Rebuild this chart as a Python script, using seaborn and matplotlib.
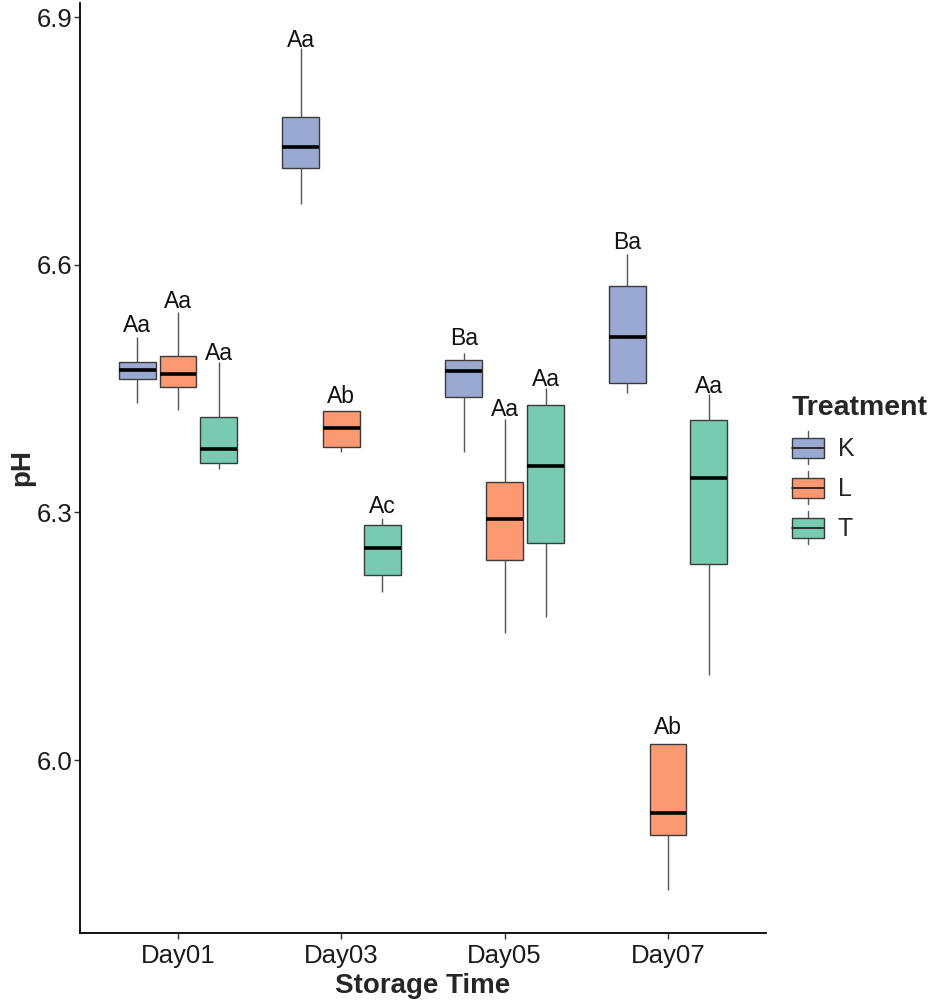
import numpy as np
import pandas as pd
import matplotlib
matplotlib.use("Agg")
import matplotlib.pyplot as plt
from matplotlib.patches import Rectangle, Patch
from matplotlib.lines import Line2D
from matplotlib.legend_handler import HandlerBase
import seaborn as sns

# ---------------- data ----------------
days = ["Day01", "Day03", "Day05", "Day07"]
treatments = ["K", "L", "T"]

ph_K = [
    [6.433, 6.462, 6.472, 6.4825, 6.513],
    [6.6735, 6.7175, 6.7425, 6.779, 6.862],
    [6.3735, 6.4394, 6.4716, 6.4845, 6.4926],
    [6.4442, 6.457, 6.5128, 6.5745, 6.6126],
]
ph_L = [
    [6.424, 6.452, 6.468, 6.489, 6.543],
    [6.3735, 6.3795, 6.4018, 6.4228, 6.4228],
    [6.1535, 6.2423, 6.292, 6.3372, 6.4127],
    [5.8426, 5.9092, 5.9362, 6.0198, 6.0198],
]
ph_T = [
    [6.353, 6.360, 6.377, 6.415, 6.4825],
    [6.2032, 6.2241, 6.2565, 6.2847, 6.2928],
    [6.1729, 6.2625, 6.3565, 6.430, 6.451],
    [6.103, 6.2375, 6.342, 6.4119, 6.444],
]

letters_K = ["Aa", "Aa", "Ba", "Ba"]
letters_L = ["Aa", "Ab", "Aa", "Ab"]
letters_T = ["Aa", "Ac", "Aa", "Aa"]

label_y_K = [6.527, 6.872, 6.511, 6.627]
label_y_L = [6.556, 6.440, 6.425, 6.039]
label_y_T = [6.492, 6.307, 6.4615, 6.452]

y_ticks = [6.0, 6.3, 6.6, 6.9]

# ---------------- build frame ----------------
rows = []
for trt, series in zip(treatments, [ph_K, ph_L, ph_T]):
    for d, vals in zip(days, series):
        for v in vals:
            rows.append({"Storage Time": d, "pH": v, "Treatment": trt})
df = pd.DataFrame(rows)

palette = {"K": "#99a9d2", "L": "#fc9872", "T": "#78cbb0"}

sns.set_theme(style="ticks")
plt.rcParams["font.family"] = ["Liberation Sans", "DejaVu Sans"]

fig = plt.figure(figsize=(9.3, 10.02), dpi=100)
ax = fig.add_axes([80 / 930, 1 - 932.7 / 1002, (766 - 80) / 930, (932.7 - 3) / 1002])

edge = "#3a3a3a"
sns.boxplot(
    data=df, x="Storage Time", y="pH", hue="Treatment",
    order=days, hue_order=treatments, palette=palette,
    width=0.75, gap=0.1, whis=(0, 100), showcaps=False, fliersize=0,
    linewidth=1.0, linecolor=edge,
    medianprops=dict(color="black", linewidth=2.6),
    whiskerprops=dict(color="#555555", linewidth=1.0),
    saturation=1, legend=False, ax=ax,
)

# significance letters
offsets = [-0.25, 0.0, 0.25]
for off, letters, ys in zip(offsets, [letters_K, letters_L, letters_T],
                            [label_y_K, label_y_L, label_y_T]):
    for i, (lab, yv) in enumerate(zip(letters, ys)):
        ax.text(i + off, yv, lab, ha="center", va="center", fontsize=16.5,
                color="#111111")

ax.set_ylim(5.791, 6.917)
ax.set_xlim(-0.6, 3.6)
ax.set_yticks(y_ticks)
ax.set_yticklabels([f"{t:.1f}" for t in y_ticks])
for s in ["top", "right"]:
    ax.spines[s].set_visible(False)
for s in ["left", "bottom"]:
    ax.spines[s].set_color("black")
    ax.spines[s].set_linewidth(1.3)
ax.tick_params(axis="both", which="major", length=4, width=1, color="#333333",
               labelsize=18.5, labelcolor="#1a1a1a")
ax.tick_params(axis="x", pad=4)
ax.tick_params(axis="y", pad=1.5)
ax.set_xlabel("Storage Time", fontsize=20, fontweight="bold", labelpad=4)
ax.set_ylabel("pH", fontsize=20, fontweight="bold", labelpad=1)


# legend with boxplot-style keys
class BoxKeyHandler(HandlerBase):
    def create_artists(self, legend, orig_handle, xdescent, ydescent,
                       width, height, fontsize, trans):
        fc = orig_handle.get_facecolor()
        cx = -xdescent + width / 2
        cy = -ydescent + height / 2
        hh = 7.2
        wh = 11.8
        w1 = Line2D([cx, cx], [cy + hh, cy + wh], color="#555555", lw=1.0, transform=trans)
        w2 = Line2D([cx, cx], [cy - wh, cy - hh], color="#555555", lw=1.0, transform=trans)
        box = Rectangle((-xdescent, cy - hh), width, 2 * hh, facecolor=fc,
                        edgecolor=edge, lw=1.0, transform=trans)
        med = Line2D([-xdescent, -xdescent + width], [cy, cy], color="#222222",
                     lw=1.3, transform=trans)
        return [w1, w2, box, med]


handles = [Patch(facecolor=palette[t], label=t) for t in treatments]
leg = fig.legend(handles=handles, labels=treatments, title="Treatment",
                 handler_map={Patch: BoxKeyHandler()},
                 loc="center left", bbox_to_anchor=(774 / 930, 1 - 468 / 1002),
                 frameon=False, fontsize=18, title_fontsize=20.5,
                 handlelength=1.3, handleheight=1.2, labelspacing=0.55,
                 handletextpad=0.55, borderpad=0.2, alignment="left")
leg.get_title().set_fontweight("bold")

fig.savefig("out.png", dpi=100)
